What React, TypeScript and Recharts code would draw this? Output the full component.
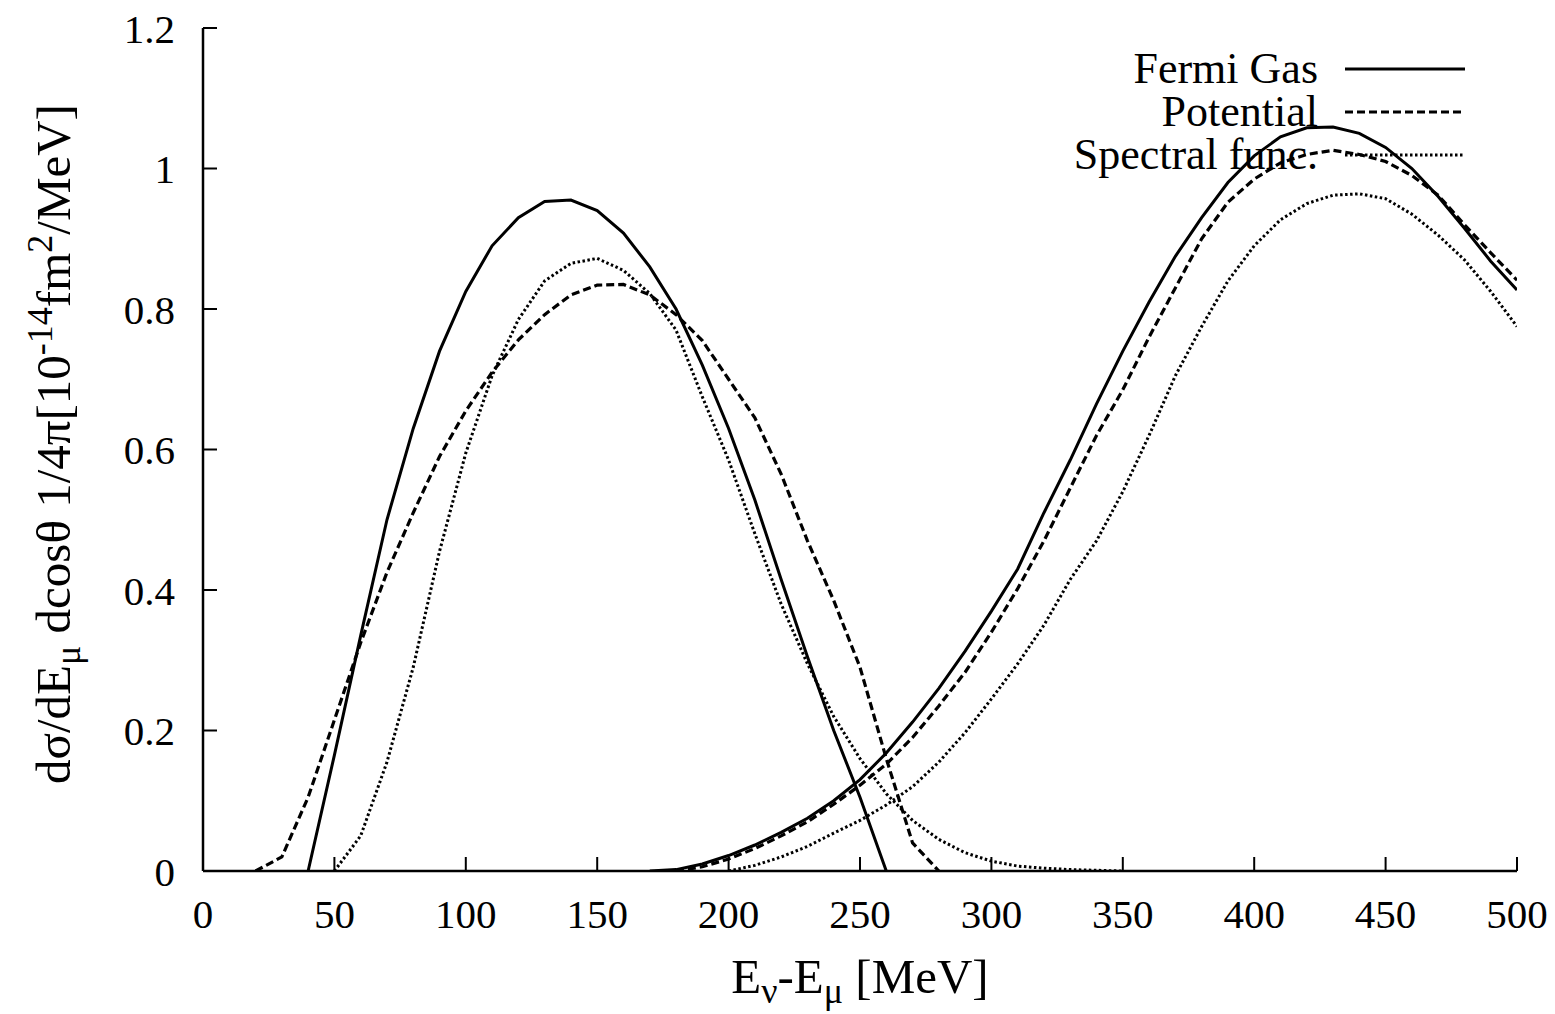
import React from "react";
import { Legend, Line, LineChart, XAxis, YAxis } from "recharts";

// energy transfer grids [MeV] and cross sections
const fermiLowE = [40, 50, 60, 70, 80, 90, 100, 110, 120, 130, 140, 150, 160, 170, 180, 190, 200, 210, 220, 230, 240, 250, 260];
const fermiLowV = [0, 0.165, 0.335, 0.5, 0.63, 0.74, 0.825, 0.89, 0.93, 0.953, 0.955, 0.94, 0.908, 0.86, 0.8, 0.72, 0.63, 0.528, 0.415, 0.305, 0.2, 0.105, 0];

const potentialLowE = [20, 30, 40, 50, 60, 70, 80, 90, 100, 110, 120, 130, 140, 150, 160, 170, 180, 190, 200, 210, 220, 230, 240, 250, 260, 270, 280];
const potentialLowV = [0, 0.02, 0.105, 0.215, 0.325, 0.425, 0.51, 0.59, 0.655, 0.71, 0.756, 0.792, 0.82, 0.834, 0.835, 0.82, 0.792, 0.755, 0.7, 0.645, 0.565, 0.47, 0.385, 0.29, 0.16, 0.04, 0];

const spectralLowE = [50, 60, 70, 80, 90, 100, 110, 120, 130, 140, 150, 160, 170, 180, 190, 200, 210, 220, 230, 240, 250, 260, 270, 280, 290, 300, 310, 320, 330, 340, 350];
const spectralLowV = [0, 0.05, 0.155, 0.29, 0.455, 0.595, 0.705, 0.785, 0.84, 0.865, 0.872, 0.855, 0.822, 0.77, 0.675, 0.585, 0.48, 0.38, 0.295, 0.22, 0.16, 0.11, 0.072, 0.045, 0.026, 0.014, 0.007, 0.004, 0.002, 0.001, 0];

const fermiHighE = [170, 180, 190, 200, 210, 220, 230, 240, 250, 260, 270, 280, 290, 300, 310, 320, 330, 340, 350, 360, 370, 380, 390, 400, 410, 420, 430, 440, 450, 460, 470, 480, 490, 500];
const fermiHighV = [0, 0.002, 0.01, 0.022, 0.037, 0.055, 0.075, 0.1, 0.13, 0.168, 0.212, 0.26, 0.313, 0.37, 0.43, 0.51, 0.585, 0.665, 0.74, 0.81, 0.875, 0.93, 0.98, 1.018, 1.045, 1.058, 1.059, 1.05, 1.03, 1.0, 0.96, 0.915, 0.868, 0.827];

const potentialHighE = [180, 190, 200, 210, 220, 230, 240, 250, 260, 270, 280, 290, 300, 310, 320, 330, 340, 350, 360, 370, 380, 390, 400, 410, 420, 430, 440, 450, 460, 470, 480, 490, 500];
const potentialHighV = [0, 0.006, 0.017, 0.032, 0.05, 0.07, 0.095, 0.122, 0.152, 0.19, 0.235, 0.283, 0.34, 0.402, 0.47, 0.545, 0.62, 0.685, 0.76, 0.83, 0.9, 0.952, 0.985, 1.008, 1.02, 1.026, 1.02, 1.01, 0.99, 0.962, 0.92, 0.88, 0.841];

const spectralHighE = [200, 210, 220, 230, 240, 250, 260, 270, 280, 290, 300, 310, 320, 330, 340, 350, 360, 370, 380, 390, 400, 410, 420, 430, 440, 450, 460, 470, 480, 490, 500];
const spectralHighV = [0, 0.008, 0.02, 0.035, 0.054, 0.072, 0.094, 0.12, 0.155, 0.197, 0.245, 0.295, 0.35, 0.415, 0.47, 0.54, 0.62, 0.705, 0.775, 0.84, 0.89, 0.927, 0.95, 0.962, 0.964, 0.957, 0.935, 0.905, 0.87, 0.825, 0.775];

const xTicks = [0, 50, 100, 150, 200, 250, 300, 350, 400, 450, 500];
const yTicks = [0, 0.2, 0.4, 0.6, 0.8, 1, 1.2];

const seriesNames = ["Fermi Gas", "Potential", "Spectral func."];

const toPoints = (e: number[], v: number[]) => e.map((x, i) => ({ x, y: v[i] }));

const FONT = "'Liberation Serif', 'Times New Roman', serif";
const dashes: Record<string, string | undefined> = {
  "Fermi Gas": undefined,
  Potential: "8 4",
  "Spectral func.": "2.5 2.5",
};
const widths: Record<string, number> = {
  "Fermi Gas": 3,
  Potential: 3.2,
  "Spectral func.": 3,
};

function KeyBox() {
  return (
    <div style={{ fontFamily: FONT, fontSize: 44, color: "#000" }}>
      {seriesNames.map((name) => (
        <div
          key={name}
          style={{ display: "flex", justifyContent: "flex-end", alignItems: "center", height: 43 }}
        >
          <span style={{ lineHeight: "43px" }}>{name}</span>
          <svg width={120} height={10} style={{ marginLeft: 27 }}>
            <line
              x1={0}
              y1={5}
              x2={120}
              y2={5}
              stroke="#000"
              strokeWidth={widths[name]}
              strokeDasharray={dashes[name]}
            />
          </svg>
        </div>
      ))}
    </div>
  );
}

export default function App() {
  const lines = [
    { name: seriesNames[0], data: toPoints(fermiLowE, fermiLowV), legend: true },
    { name: seriesNames[1], data: toPoints(potentialLowE, potentialLowV), legend: true },
    { name: seriesNames[2], data: toPoints(spectralLowE, spectralLowV), legend: true },
    { name: seriesNames[0], data: toPoints(fermiHighE, fermiHighV), legend: false },
    { name: seriesNames[1], data: toPoints(potentialHighE, potentialHighV), legend: false },
    { name: seriesNames[2], data: toPoints(spectralHighE, spectralHighV), legend: false },
  ];

  const tickStyle = { fontFamily: FONT, fontSize: 41, fill: "#000" };
  const axisLine = { stroke: "#000", strokeWidth: 2.5 };
  const tickLine = { stroke: "#000", strokeWidth: 2 };

  return (
    <div style={{ position: "absolute", left: 0, top: 0, width: 1555, height: 1014, background: "#fff" }}>
      <LineChart width={1555} height={1014} margin={{ top: 28, right: 38, bottom: 0, left: 0 }}>
        <XAxis
          xAxisId={0}
          type="number"
          dataKey="x"
          domain={[0, 500]}
          ticks={xTicks}
          allowDataOverflow
          height={143}
          tickSize={-14}
          tickMargin={42}
          tick={tickStyle}
          axisLine={axisLine}
          tickLine={tickLine}
        />
        <XAxis
          xAxisId="top"
          orientation="top"
          type="number"
          dataKey="x"
          domain={[0, 500]}
          ticks={xTicks}
          allowDataOverflow
          height={0}
          tickSize={-14}
          tick={false}
          axisLine={axisLine}
          tickLine={tickLine}
        />
        <YAxis
          yAxisId={0}
          type="number"
          domain={[0, 1.2]}
          ticks={yTicks}
          allowDataOverflow
          width={203}
          tickSize={-14}
          tickMargin={42}
          tick={tickStyle}
          axisLine={axisLine}
          tickLine={tickLine}
        />
        <YAxis
          yAxisId="right"
          orientation="right"
          type="number"
          domain={[0, 1.2]}
          ticks={yTicks}
          allowDataOverflow
          width={0}
          tickSize={-14}
          tick={false}
          axisLine={axisLine}
          tickLine={tickLine}
        />
        <Legend
          layout="vertical"
          align="center"
          verticalAlign="middle"
          wrapperStyle={{ left: 965, top: 47, width: 500, height: 140 }}
          content={() => <KeyBox />}
        />
        {lines.map((s, i) => (
          <Line
            key={i}
            xAxisId={0}
            yAxisId={0}
            data={s.data}
            dataKey="y"
            name={s.name}
            type="linear"
            stroke="#000"
            strokeWidth={widths[s.name]}
            strokeDasharray={dashes[s.name]}
            dot={false}
            activeDot={false}
            legendType={s.legend ? "line" : "none"}
            isAnimationActive={false}
          />
        ))}
      </LineChart>
      <svg
        width={1555}
        height={1014}
        style={{ position: "absolute", left: 0, top: 0, pointerEvents: "none" }}
      >
        <text x={860} y={993} textAnchor="middle" fontFamily={FONT} fontSize={49} fill="#000">
          E<tspan fontSize={36} dy={10}>ν</tspan>
          <tspan dy={-10}>-E</tspan>
          <tspan fontSize={36} dy={10}>μ</tspan>
          <tspan dy={-10}> [MeV]</tspan>
        </text>
        <text
          transform="translate(70 444) rotate(-90)"
          textAnchor="middle"
          fontFamily={FONT}
          fontSize={49}
          fill="#000"
        >
          dσ/dE<tspan fontSize={36} dy={10}>μ</tspan>
          <tspan dy={-10}> dcosθ 1/4π[10</tspan>
          <tspan fontSize={36} dy={-18}>-14</tspan>
          <tspan dy={18}>fm</tspan>
          <tspan fontSize={36} dy={-18}>2</tspan>
          <tspan dy={18}>/MeV]</tspan>
        </text>
      </svg>
    </div>
  );
}
